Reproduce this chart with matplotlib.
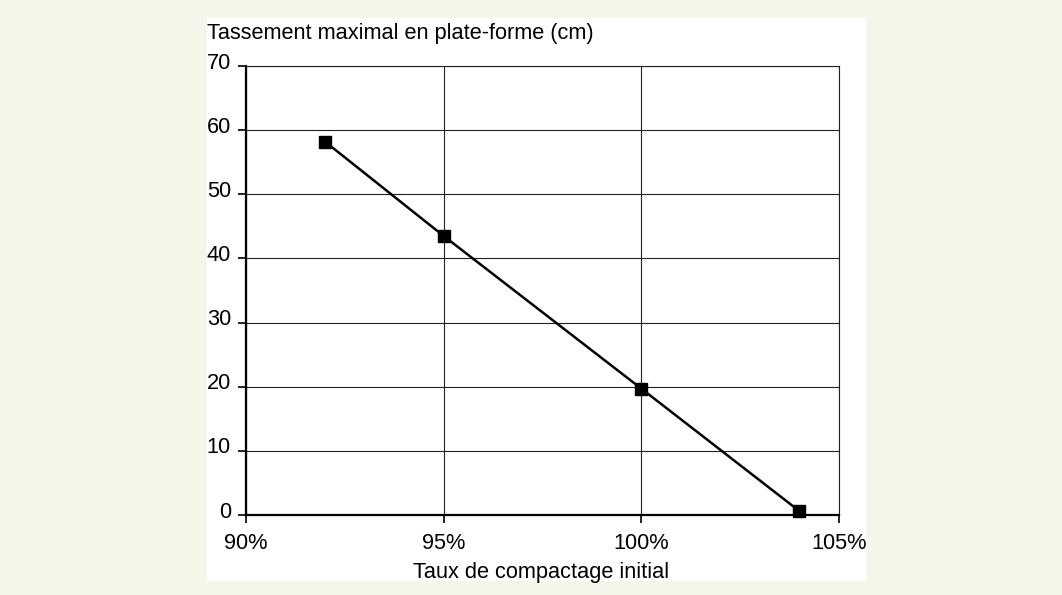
import matplotlib
matplotlib.use("Agg")
import matplotlib.pyplot as plt
from matplotlib.ticker import FuncFormatter
from matplotlib.patches import Rectangle
from matplotlib.transforms import ScaledTranslation

compactage = [0.92, 0.95, 1.00, 1.04]
tassement = [58.2, 43.5, 19.7, 0.6]
x_ticks = [0.90, 0.95, 1.00, 1.05]
y_ticks = [0, 10, 20, 30, 40, 50, 60, 70]

plt.rcParams['font.family'] = ['Liberation Sans', 'DejaVu Sans']
FS = 15.7
W, H = 1062, 595
fig = plt.figure(figsize=(W/100, H/100), dpi=100)
fig.patch.set_facecolor('#f3f6e8')
fig.add_artist(Rectangle((207/W, 1-581/H), (866-207)/W, (581-18)/H,
                         transform=fig.transFigure, facecolor='white',
                         edgecolor='none', zorder=-5))

ax = fig.add_axes([246/W, 1-515/H, (839-246)/W, (515-66)/H])
ax.set_zorder(2)
ax.set_facecolor('white')
ax.plot(compactage, tassement, color='black', lw=1.8, marker='s', ms=8,
        markerfacecolor='black', zorder=3, clip_on=False)
ax.set_xlim(0.90, 1.05)
ax.set_ylim(0, 70)
ax.set_xticks(x_ticks)
ax.set_yticks(y_ticks)
ax.xaxis.set_major_formatter(FuncFormatter(lambda v, p: f"{v*100:.0f}%"))
ax.grid(True, color='#222222', lw=0.8)
ax.set_axisbelow(True)
for s in ['top', 'right']:
    ax.spines[s].set_linewidth(0.8)
    ax.spines[s].set_color('#222222')
for s in ['left', 'bottom']:
    ax.spines[s].set_linewidth(1.6)
ax.tick_params(axis='both', direction='out', length=5.8, width=1.2,
               labelsize=FS, colors='black')
ax.tick_params(axis='y', pad=5)
ax.tick_params(axis='x', pad=7.5)
off = ScaledTranslation(0, 5.5/100, fig.dpi_scale_trans)
for lab in ax.get_yticklabels():
    lab.set_transform(lab.get_transform() + off)
fig.text(207/W, 1-39/H, "Tassement maximal en plate-forme (cm)", fontsize=FS,
         ha='left', va='baseline', zorder=3)
fig.text(541/W, 1-578/H, "Taux de compactage initial", fontsize=FS,
         ha='center', va='baseline', zorder=3)
fig.savefig('out.png', dpi=100, facecolor=fig.get_facecolor())
